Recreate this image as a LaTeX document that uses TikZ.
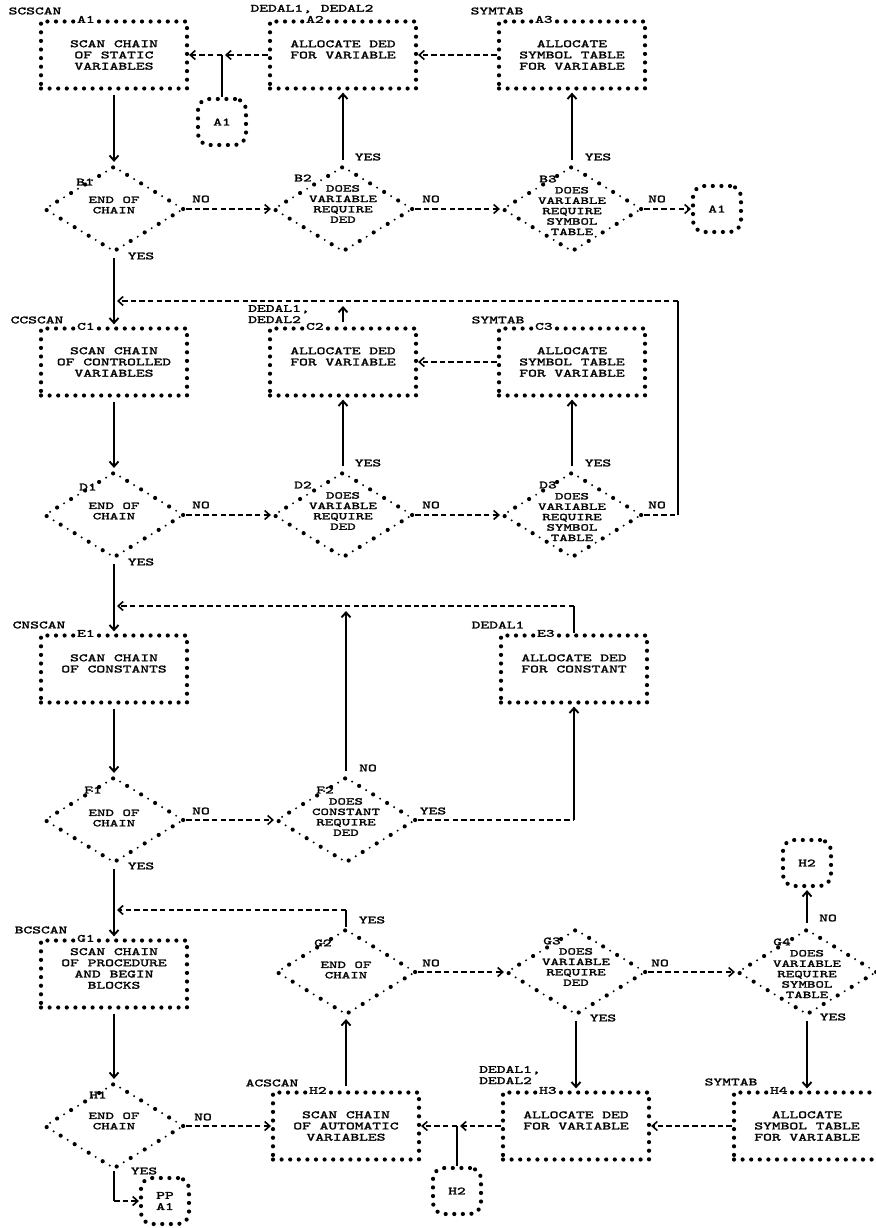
\documentclass[tikz,border=0pt]{standalone}
\usepackage{fontspec}
\usepackage{tikz}
\usetikzlibrary{shapes.geometric, arrows.meta}
\newfontfamily\prtface{lmmono10-regular.otf}[FakeBold=2, FakeStretch=1.52]
\newfontfamily\diaface{lmmono10-regular.otf}[FakeBold=2, FakeStretch=1.57]
\newcommand{\prtfont}{\prtface\fontsize{11}{11.2}\selectfont}
\newcommand{\diafont}{\diaface\fontsize{10.3}{10.4}\selectfont}
\tikzset{
  procbox/.style={rectangle, draw, line width=4.2pt, line cap=round,
    dash pattern=on 0pt off 8.6pt, minimum width=146pt, minimum height=67pt,
    inner sep=0pt, align=center},
  decision/.style={diamond, draw, line width=4.2pt, line cap=round,
    dash pattern=on 0pt off 16.4pt, minimum width=140pt, minimum height=86pt,
    inner sep=0pt, postaction={draw, line width=2.2pt, line cap=round,
    dash pattern=on 0pt off 16.4pt, dash phase=8.2pt}},
  dtext/.style={font=\diafont, align=center},
  offpage/.style={rectangle, rounded corners=11pt, draw, line width=4.2pt,
    line cap=round, dash pattern=on 0pt off 8.6pt, minimum width=48pt,
    minimum height=46pt, inner sep=0pt, align=center},
  stepid/.style={fill=white, inner sep=1pt},
  entrylbl/.style={align=left},
  vline/.style={line width=1.9pt},
  flow/.style={vline, ->, shorten <=4pt, shorten >=2pt},
  dline/.style={line width=1.6pt, dash pattern=on 5.5pt off 3.1pt},
  dflow/.style={dline, ->}
}

\begin{document}
\begin{tikzpicture}[x=1pt, y=-1pt, >={Straight Barb[length=5pt,width=9pt]},
    every node/.style={font=\prtfont, inner sep=0pt}]
  \useasboundingbox (0,0) rectangle (875,1228);

  % row A
  \node[procbox] (A1) at (114,55) {SCAN CHAIN\\OF STATIC\\VARIABLES};
  \node[procbox] (A2) at (343,55) {ALLOCATE DED\\FOR VARIABLE\\~};
  \node[procbox] (A3) at (572,55) {ALLOCATE\\SYMBOL TABLE\\FOR VARIABLE};
  \node[offpage] (cA1a) at (222,122) {A1};
  \node[stepid] (A1id) at ([xshift=47pt]A1.north west) {A1};
  \node[stepid] (A2id) at ([xshift=47pt]A2.north west) {A2};
  \node[stepid] (A3id) at ([xshift=47pt]A3.north west) {A3};
  \node (scscan) at (35,11) {SCSCAN};
  \node (dedalA) at (312,9) {DEDAL1, DEDAL2};
  \node (symtabA) at (497,11) {SYMTAB};

  % row B
  \node[decision] (B1) at (114,209) {};
  \node[decision] (B2) at (343,209) {};
  \node[decision] (B3) at (572,209) {};
  \node[offpage] (cA1b) at (717,209) {A1};
  \node (B1id) at (85,182) {B1};
  \node (B2id) at (303,178) {B2};
  \node (B3id) at (548,179) {B3};
  \node[dtext] (B1txt) at (114,205) {END OF\\CHAIN};
  \node[dtext] (B2txt) at (343,204) {DOES\\VARIABLE\\REQUIRE\\DED};
  \node[dtext] (B3txt) at (572,211) {DOES\\VARIABLE\\REQUIRE\\SYMBOL\\TABLE};

  % row C
  \node[procbox] (C1) at (114,362) {SCAN CHAIN\\OF CONTROLLED\\VARIABLES};
  \node[procbox] (C2) at (343,362) {ALLOCATE DED\\FOR VARIABLE\\~};
  \node[procbox] (C3) at (572,362) {ALLOCATE\\SYMBOL TABLE\\FOR VARIABLE};
  \node[stepid] (C1id) at ([xshift=47pt]C1.north west) {C1};
  \node[stepid] (C2id) at ([xshift=47pt]C2.north west) {C2};
  \node[stepid] (C3id) at ([xshift=47pt]C3.north west) {C3};
  \node (ccscan) at (37,320) {CCSCAN};
  \node[entrylbl] (dedalC) at (279,314) {DEDAL1,\\DEDAL2};
  \node (symtabC) at (498,320) {SYMTAB};

  % row D
  \node[decision] (D1) at (114,515) {};
  \node[decision] (D2) at (343,515) {};
  \node[decision] (D3) at (572,515) {};
  \node (D1id) at (88,487) {D1};
  \node (D2id) at (303,485) {D2};
  \node (D3id) at (548,485) {D3};
  \node[dtext] (D1txt) at (114,511) {END OF\\CHAIN};
  \node[dtext] (D2txt) at (343,511) {DOES\\VARIABLE\\REQUIRE\\DED};
  \node[dtext] (D3txt) at (572,517) {DOES\\VARIABLE\\REQUIRE\\SYMBOL\\TABLE};

  % row E
  \node[procbox] (E1) at (114,669) {SCAN CHAIN\\OF CONSTANTS\\~};
  \node[procbox] (E3) at (574,669) {ALLOCATE DED\\FOR CONSTANT\\~};
  \node[stepid] (E1id) at ([xshift=47pt]E1.north west) {E1};
  \node[stepid] (E3id) at ([xshift=47pt]E3.north west) {E3};
  \node (cnscan) at (39,625) {CNSCAN};
  \node (dedalE) at (498,625) {DEDAL1};

  % row F
  \node[decision] (F1) at (114,820) {};
  \node[decision] (F2) at (346,820) {};
  \node (F1id) at (93,790) {F1};
  \node (F2id) at (325,790) {F2};
  \node[dtext] (F1txt) at (114,818) {END OF\\CHAIN};
  \node[dtext] (F2txt) at (346,817) {DOES\\CONSTANT\\REQUIRE\\DED};

  % row G
  \node[procbox] (G1) at (114,974) {SCAN CHAIN\\OF PROCEDURE\\AND BEGIN\\BLOCKS\\~};
  \node[stepid] (G1id) at ([xshift=47pt]G1.north west) {G1};
  \node (bcscan) at (41,930) {BCSCAN};
  \node[decision] (G2) at (346,972) {};
  \node[decision] (G3) at (576,972) {};
  \node[decision] (G4) at (807,972) {};
  \node[offpage] (cH2a) at (807,863) {H2};
  \node (G2id) at (323,943) {G2};
  \node (G3id) at (552,941) {G3};
  \node (G4id) at (782,942) {G4};
  \node[dtext] (G2txt) at (346,970) {END OF\\CHAIN};
  \node[dtext] (G3txt) at (576,967) {DOES\\VARIABLE\\REQUIRE\\DED};
  \node[dtext] (G4txt) at (807,974) {DOES\\VARIABLE\\REQUIRE\\SYMBOL\\TABLE};

  % row H
  \node[decision] (H1) at (114,1126) {};
  \node (H1id) at (98,1095) {H1};
  \node[dtext] (H1txt) at (114,1121) {END OF\\CHAIN};
  \node[procbox] (H2) at (346,1126) {SCAN CHAIN\\OF AUTOMATIC\\VARIABLES};
  \node[procbox] (H3) at (576,1126) {ALLOCATE DED\\FOR VARIABLE\\~};
  \node[procbox] (H4) at (807,1126) {ALLOCATE\\SYMBOL TABLE\\FOR VARIABLE};
  \node[stepid] (H2id) at ([xshift=47pt]H2.north west) {H2};
  \node[stepid] (H3id) at ([xshift=47pt]H3.north west) {H3};
  \node[stepid] (H4id) at ([xshift=47pt]H4.north west) {H4};
  \node (acscan) at (272,1083) {ACSCAN};
  \node[entrylbl] (dedalH) at (510,1075) {DEDAL1,\\DEDAL2};
  \node (symtabH) at (731,1082) {SYMTAB};
  \node[offpage] (cH2b) at (457,1191) {H2};
  \node[offpage] (cPP) at (165,1201) {PP\\A1};

  % junctions and corners
  \coordinate (jA) at (cA1a |- A1);
  \coordinate (jH) at (cH2b |- H2);
  \coordinate (rC1) at (678,515);
  \coordinate (rC2) at (678,301);
  \coordinate (rC3) at (114,301);
  \coordinate (rE1) at (574,606);
  \coordinate (rE2) at (114,606);
  \coordinate (rF1) at (574,820);
  \coordinate (rG1) at (346,910);
  \coordinate (rG2) at (114,910);
  \coordinate (hY) at (114,1201);

  % column 1 main line
  \draw[flow] (A1) -- (B1);
  \draw[flow] (B1) -- (C1);
  \draw[flow] (C1) -- (D1);
  \draw[flow] (D1) -- (E1);
  \draw[flow] (E1) -- (F1);
  \draw[flow] (F1) -- (G1);
  \draw[flow] (G1) -- (H1);

  % static variables
  \draw[dflow] (B1) -- (B2);
  \draw[dflow] (B2) -- (B3);
  \draw[dflow] (B3) -- (cA1b);
  \draw[flow] (B2) -- (A2);
  \draw[flow] (B3) -- (A3);
  \draw[dflow] (A3) -- (A2);
  \draw[dflow, shorten >=3pt] (A2) -- (jA);
  \draw[dflow] (jA) -- (A1);
  \draw[vline] (cA1a) -- (jA);

  % controlled variables
  \draw[dflow] (D1) -- (D2);
  \draw[dflow] (D2) -- (D3);
  \draw[flow] (D2) -- (C2);
  \draw[flow] (D3) -- (C3);
  \draw[dflow] (C3) -- (C2);
  \draw[dline] (D3) -- (rC1);
  \draw[vline] (rC1) -- (rC2);
  \draw[dflow, shorten >=3pt] (rC2) -- (rC3);
  \draw[flow] (C2) -- ([yshift=-3pt]C2 |- rC2);

  % constants
  \draw[dflow] (F1) -- (F2);
  \draw[dline] (F2) -- (rF1);
  \draw[flow, shorten <=0pt] (rF1) -- (E3);
  \draw[vline] (E3) -- (rE1);
  \draw[dflow, shorten >=3pt] (rE1) -- (rE2);
  \draw[flow] (F2) -- ([yshift=-3pt]F2 |- rE1);

  % blocks and automatic variables
  \draw[vline] (G2) -- (rG1);
  \draw[dflow, shorten >=3pt] (rG1) -- (rG2);
  \draw[dflow] (G2) -- (G3);
  \draw[dflow] (G3) -- (G4);
  \draw[flow] (G4) -- (cH2a);
  \draw[flow] (G4) -- (H4);
  \draw[flow] (G3) -- (H3);
  \draw[flow] (H2) -- (G2);
  \draw[dflow] (H4) -- (H3);
  \draw[dflow, shorten >=3pt] (H3) -- (jH);
  \draw[dflow] (jH) -- (H2);
  \draw[vline] (cH2b) -- (jH);
  \draw[dflow] (H1) -- (H2);
  \draw[vline] (H1) -- (hY);
  \draw[dflow] (hY) -- (cPP);

  % branch labels
  \node (B1no) at (201,199) {NO};
  \node (B1yes) at (141,256) {YES};
  \node (B2yes) at (368,157) {YES};
  \node (B2no) at (431,199) {NO};
  \node (B3yes) at (598,157) {YES};
  \node (B3no) at (657,199) {NO};
  \node (D1no) at (201,505) {NO};
  \node (D1yes) at (141,562) {YES};
  \node (D2yes) at (368,463) {YES};
  \node (D2no) at (431,505) {NO};
  \node (D3yes) at (598,463) {YES};
  \node (D3no) at (657,505) {NO};
  \node (F1no) at (201,811) {NO};
  \node (F1yes) at (141,866) {YES};
  \node (F2no) at (368,768) {NO};
  \node (F2yes) at (433,811) {YES};
  \node (G2yes) at (372,920) {YES};
  \node (G2no) at (431,963) {NO};
  \node (G3no) at (660,963) {NO};
  \node (G3yes) at (603,1018) {YES};
  \node (G4no) at (828,918) {NO};
  \node (G4yes) at (833,1017) {YES};
  \node (H1no) at (203,1117) {NO};
  \node (H1yes) at (144,1171) {YES};
\end{tikzpicture}
\end{document}
